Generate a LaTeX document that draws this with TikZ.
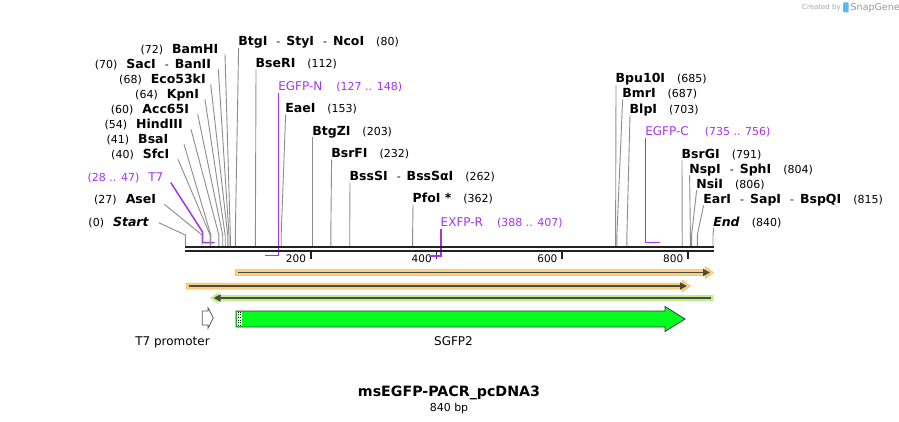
\documentclass[tikz,border=0pt]{standalone}
\usepackage{fontspec}
\setmainfont{DejaVu Sans}
\usetikzlibrary{arrows.meta}
\definecolor{bb}{HTML}{222222}
\definecolor{sl}{HTML}{8C8C8C}
\definecolor{prim}{HTML}{A334EE}
\definecolor{haloO}{HTML}{FFCF80}
\definecolor{haloOe}{HTML}{F5BA55}
\definecolor{haloG}{HTML}{BDEF8C}
\definecolor{fl}{HTML}{4B4B3E}
\definecolor{gfp}{HTML}{00FF1E}
\definecolor{gfpe}{HTML}{3C3C3C}
\definecolor{snapblue}{HTML}{5BB8F0}
\newcommand\enz[1]{\textbf{#1}}
\newcommand\pnum[1]{{\fontsize{11}{12}\selectfont(#1)}}
\newcommand\esep{\hspace{9pt}{\fontsize{11}{12}\selectfont -}\hspace{6pt}}
\newcommand\gapn{\hspace{12pt}}
\newcommand\gapl{\hspace{9pt}}
\newcommand\psmall[1]{{\fontsize{11}{12}\selectfont #1}}
\tikzset{
  lbl/.style={inner sep=0pt, outer sep=0pt, font=\fontsize{12.5}{14}\selectfont},
  plbl/.style={inner sep=0pt, outer sep=0pt, text=prim, font=\fontsize{12}{14}\selectfont},
  siteline/.style={draw=sl, line width=0.9pt},
  primline/.style={draw=prim, line width=1.5pt},
  bbline/.style={draw=bb, line width=2pt},
  tickline/.style={draw=bb, line width=1.8pt},
  ticklbl/.style={inner sep=0pt, font=\fontsize{10.5}{12}\selectfont, anchor=base east},
  featline/.style={draw=fl, line width=1.8pt},
}
% left-hand enzyme label: name, label x (right end), baseline, text, line start x, site x
\newcommand\lsite[6]{%
  \node[lbl,anchor=base east] (#1) at (#2,#3) {#4};
  \coordinate (#1-a) at (#5,#3+1);
  \coordinate (#1-k) at (#6,235);
  \coordinate (#1-b) at (#6,246);
  \draw[siteline] (#1-a) -- (#1-k) -- (#1-b);}
% right-hand enzyme label: name, label x (left end), baseline, text, site x
\newcommand\rsite[5]{%
  \node[lbl,anchor=base west] (#1) at (#2,#3) {#4};
  \coordinate (#1-a) at (#2+0.3,#3+2);
  \coordinate (#1-k) at (#5,235);
  \coordinate (#1-b) at (#5,246);
  \draw[siteline] (#1-a) -- (#1-k) -- (#1-b);}
\begin{document}
\begin{tikzpicture}[x=1pt,y=-1pt]
\useasboundingbox (0,0) rectangle (899,422);
\fill[white] (0,0) rectangle (899,422);

% watermark
\node[inner sep=0pt, anchor=base west, text=black!35, font=\fontsize{7}{8}\selectfont] (wm1) at (802,10) {Created by};
\fill[snapblue, rounded corners=1pt] (843,2.5) rectangle (848.5,12.5);
\node[inner sep=0pt, anchor=base west, text=black!40, font=\fontsize{9.5}{10}\selectfont] (wm2) at (850.5,11) {SnapGene};

% primer brackets (under the backbone)
\node[plbl,anchor=base east] (t7) at (163.3,181.7) {\psmall{(28 .. 47)}\gapl T7};
\coordinate (t7-a) at (170.7,182.5);
\coordinate (t7-k) at (202.6,232);
\coordinate (t7-b) at (202.6,242.5);
\coordinate (t7-c) at (214.5,242.5);
\draw[primline] (t7-a) -- (t7-k) -- (t7-b) -- (t7-c);

\node[plbl,anchor=base west] (egfpn) at (278.3,91) {EGFP-N\hspace{14pt}\psmall{(127 .. 148)}};
\coordinate (egfpn-a) at (278.7,93.5);
\coordinate (egfpn-b) at (278.7,255.5);
\coordinate (egfpn-c) at (264.8,255.5);
\draw[primline] (egfpn-a) -- (egfpn-b) -- (egfpn-c);

\node[plbl,anchor=base west] (exfpr) at (440.7,226) {EXFP-R\hspace{14pt}\psmall{(388 .. 407)}};
\coordinate (exfpr-a) at (441,228.5);
\coordinate (exfpr-b) at (441,256);
\coordinate (exfpr-c) at (428.5,256);
\draw[primline] (exfpr-a) -- (exfpr-b) -- (exfpr-c);

\node[plbl,anchor=base west] (egfpc) at (645.3,136) {EGFP-C\hspace{16pt}\psmall{(735 .. 756)}};
\coordinate (egfpc-a) at (645.6,138.5);
\coordinate (egfpc-b) at (645.6,242.5);
\coordinate (egfpc-c) at (660,242.5);
\draw[primline] (egfpc-a) -- (egfpc-b) -- (egfpc-c);

% left enzyme labels
\lsite{bamhi}{218.3}{53.3}{\pnum{72}\gapl\enz{BamHI}}{225}{230.3}
\lsite{saci}{211}{68.3}{\pnum{70}\gapl\enz{SacI}\esep\enz{BanII}}{218.3}{229.0}
\lsite{eco}{205.7}{83.3}{\pnum{68}\gapl\enz{Eco53kI}}{210.7}{227.7}
\lsite{kpni}{199}{98.3}{\pnum{64}\gapl\enz{KpnI}}{205}{225.2}
\lsite{acc}{189}{113.3}{\pnum{60}\gapl\enz{Acc65I}}{197.7}{222.7}
\lsite{hind}{182.7}{128.3}{\pnum{54}\gapl\enz{HindIII}}{191}{218.9}
\lsite{bsai}{168.3}{143.3}{\pnum{41}\gapl\enz{BsaI}}{184}{210.8}
\lsite{sfci}{169.3}{158.3}{\pnum{40}\gapl\enz{SfcI}}{178}{210.1}
\lsite{asei}{156}{203.3}{\pnum{27}\gapl\enz{AseI}}{164.3}{202.0}
\node[lbl,anchor=base east] (start) at (149,226) {\pnum{0}\gapl\textbf{\textit{Start}}};
\coordinate (start-a) at (158.7,222.7);
\coordinate (start-k) at (185.3,235);
\coordinate (start-b) at (185.3,246);
\draw[siteline] (start-a) -- (start-k) -- (start-b);

% right enzyme labels
\rsite{btgi}{238.3}{46}{\enz{BtgI}\esep\enz{StyI}\esep\enz{NcoI}\gapn\pnum{80}}{235.3}
\rsite{bseri}{255.7}{67.7}{\enz{BseRI}\gapn\pnum{112}}{255.4}
\rsite{eaei}{285.3}{112.7}{\enz{EaeI}\gapn\pnum{153}}{281.2}
\rsite{btgzi}{312.3}{135.3}{\enz{BtgZI}\gapn\pnum{203}}{312.6}
\rsite{bsrfi}{331.3}{157.7}{\enz{BsrFI}\gapn\pnum{232}}{330.8}
\rsite{bsssi}{349.7}{180.7}{\enz{BssSI}\esep\enz{BssSαI}\gapn\pnum{262}}{349.7}
\rsite{pfoi}{412.7}{202.7}{\enz{PfoI *}\gapn\pnum{362}}{412.6}
\rsite{bpu}{615.7}{83}{\enz{Bpu10I}\gapn\pnum{685}}{615.6}
\rsite{bmri}{622.3}{97.7}{\enz{BmrI}\gapn\pnum{687}}{616.9}
\rsite{blpi}{629.7}{113.3}{\enz{BlpI}\gapn\pnum{703}}{626.9}
\rsite{bsrgi}{681.7}{158.3}{\enz{BsrGI}\gapn\pnum{791}}{682.2}
\rsite{nspi}{689.3}{173.3}{\enz{NspI}\esep\enz{SphI}\gapn\pnum{804}}{690.4}
\rsite{nsii}{696.3}{188.3}{\enz{NsiI}\gapn\pnum{806}}{691.6}
\rsite{eari}{703.3}{203.3}{\enz{EarI}\esep\enz{SapI}\esep\enz{BspQI}\gapn\pnum{815}}{697.3}
\rsite{endl}{713.3}{226}{\textbf{\textit{End}}\gapn\pnum{840}}{713}

% backbone
\coordinate (bb0) at (185,247.3);
\coordinate (bb1) at (713.5,247.3);
\coordinate (bb2) at (185,251);
\coordinate (bb3) at (713.5,251);
\draw[bbline] (bb0) -- (bb1);
\draw[bbline] (bb2) -- (bb3);

% ticks
\foreach \tx/\tl in {310.7/200, 436.4/400, 562.1/600, 687.9/800}{
  \draw[tickline] (\tx,252) -- (\tx,259);
  \node[ticklbl] (tick\tl) at (\tx-4.5,262.5) {\tl};
}
% re-draw EXFP-R bracket over the 400 tick
\draw[primline] (exfpr-b) -- (exfpr-c);

% feature 1 (orange, forward)
\fill[haloO, draw=haloOe, line width=0.5pt] (235,269.5) -- (705,269.5) -- (705,266.5) -- (713.5,272.5) -- (705,278.5) -- (705,275.5) -- (235,275.5) -- cycle;
\draw[featline, -{Triangle[length=7pt,width=7pt]}] (237.5,272.5) -- (710,272.5);

% feature 2 (orange, forward)
\fill[haloO, draw=haloOe, line width=0.5pt] (186,283) -- (682,283) -- (682,280) -- (690.5,286) -- (682,292) -- (682,289) -- (186,289) -- cycle;
\draw[featline, -{Triangle[length=7pt,width=7pt]}] (188.5,286) -- (687,286);

% feature 3 (green, reverse)
\fill[haloG] (713.5,295) -- (218.5,295) -- (218.5,292) -- (210,298) -- (218.5,304) -- (218.5,301) -- (713.5,301) -- cycle;
\draw[featline, -{Triangle[length=7pt,width=7pt]}] (711,298) -- (213.5,298);

% T7 promoter
\draw[draw=black!65, fill=white, line width=0.8pt] (202.3,311) -- (208,311) -- (208,307.7) -- (213.3,318) -- (208,328.3) -- (208,325) -- (202.3,325) -- cycle;
\node[inner sep=0pt, anchor=base, font=\fontsize{12}{14}\selectfont] (t7p) at (172.5,345.5) {T7 promoter};

% SGFP2
\draw[draw=gfpe, fill=gfp, line width=0.8pt] (236,311) -- (665,311) -- (665,306.5) -- (685,319) -- (665,331.5) -- (665,327) -- (236,327) -- cycle;
\fill[white] (236.6,311.6) rectangle (241.6,326.4);
\draw[black, line width=0.7pt, dotted] (238.1,311.6) -- (238.1,326.4);
\draw[black, line width=0.7pt, dotted] (240.4,311.6) -- (240.4,326.4);
\node[inner sep=0pt, anchor=base, font=\fontsize{12}{14}\selectfont] (sgfp) at (453.5,345.5) {SGFP2};

% title
\node[inner sep=0pt, anchor=base, font=\bfseries\fontsize{14.2}{16}\selectfont] (title) at (449,396) {msEGFP-PACR\_pcDNA3};
\node[inner sep=0pt, anchor=base, font=\fontsize{11}{12}\selectfont] (len) at (449,411) {840 bp};
\end{tikzpicture}
\end{document}
